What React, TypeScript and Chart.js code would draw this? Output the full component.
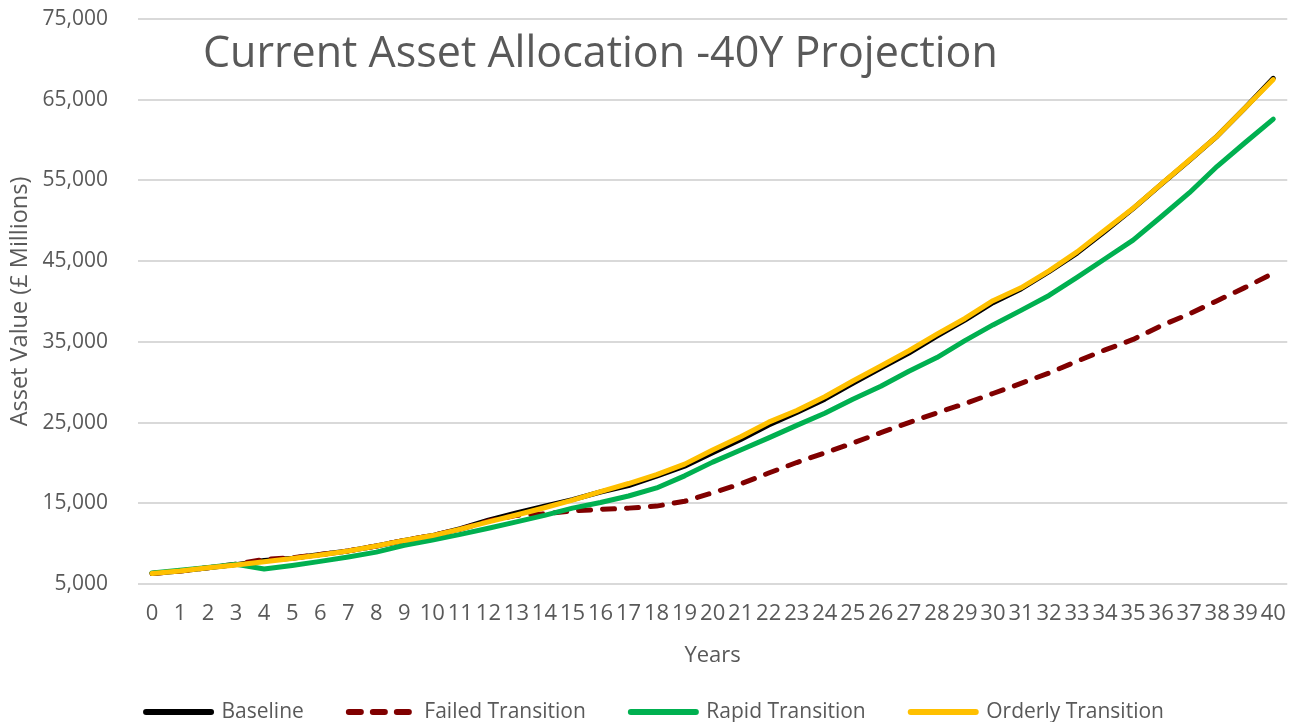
import React, { useEffect, useRef } from 'react';
import { Chart, registerables } from 'chart.js';

Chart.register(...registerables);

const CHART_TITLE = 'Current Asset Allocation -40Y Projection';
const X_TITLE = 'Years';
const Y_TITLE = 'Asset Value (£ Millions)';

const years = [
  '0', '1', '2', '3', '4', '5', '6', '7', '8', '9', '10',
  '11', '12', '13', '14', '15', '16', '17', '18', '19', '20',
  '21', '22', '23', '24', '25', '26', '27', '28', '29', '30',
  '31', '32', '33', '34', '35', '36', '37', '38', '39', '40',
];

const baseline = [
  6300, 6600, 7000, 7400, 7900, 8200, 8650, 9100, 9700, 10400, 11000,
  11850, 12900, 13800, 14650, 15450, 16400, 17200, 18350, 19600, 21250,
  22900, 24700, 26250, 27900, 29850, 31750, 33600, 35700, 37700, 39850,
  41550, 43700, 46000, 48700, 51500, 54500, 57450, 60500, 64000, 67650,
];

const failed = [
  6300, 6600, 7000, 7450, 8050, 8250, 8650, 9100, 9700, 10400, 11000,
  11800, 12800, 13500, 13700, 14050, 14250, 14400, 14650, 15250, 16300,
  17400, 18750, 20050, 21250, 22450, 23750, 25000, 26200, 27350, 28600,
  29850, 31150, 32600, 34000, 35300, 37000, 38450, 40100, 41750, 43500,
];

const rapid = [
  6350, 6700, 7050, 7450, 6850, 7300, 7800, 8350, 8950, 9800, 10450,
  11150, 11900, 12700, 13500, 14400, 15100, 15900, 16900, 18400, 20100,
  21600, 23100, 24650, 26150, 27900, 29500, 31350, 33050, 35150, 37100,
  38900, 40750, 43000, 45300, 47600, 50500, 53450, 56750, 59700, 62600,
];

const orderly = [
  6300, 6600, 7000, 7350, 7750, 8150, 8600, 9080, 9700, 10400, 11000,
  11800, 12700, 13550, 14450, 15400, 16450, 17450, 18550, 19850, 21600,
  23250, 25050, 26500, 28200, 30150, 32000, 33900, 35950, 37900, 40100,
  41700, 43800, 46150, 48850, 51550, 54550, 57500, 60500, 64000, 67500,
];

const Y_MIN = 5000;
const Y_MAX = 75000;
const Y_STEP = 10000;

const FONT = '"Open Sans", sans-serif';
const GREY = '#595959';

const titlePlugin = {
  id: 'insideTitle',
  afterDraw(chart: any) {
    const { ctx } = chart;
    ctx.save();
    ctx.font = `43px ${FONT}`;
    ctx.fillStyle = GREY;
    ctx.textBaseline = 'alphabetic';
    ctx.textAlign = 'left';
    ctx.fillText(CHART_TITLE, 203, 67);
    ctx.restore();
  },
};

export default function App() {
  const canvasRef = useRef<HTMLCanvasElement | null>(null);

  useEffect(() => {
    if (!canvasRef.current) return;
    const lineCommon = {
      borderWidth: 5,
      pointRadius: 0,
      pointHoverRadius: 0,
      tension: 0,
      fill: false,
      borderCapStyle: 'round' as const,
      borderJoinStyle: 'round' as const,
    };
    const chart = new Chart(canvasRef.current, {
      type: 'line',
      data: {
        labels: years,
        datasets: [
          { ...lineCommon, label: 'Baseline', data: baseline, borderColor: '#000000', backgroundColor: '#000000', order: 3 },
          { ...lineCommon, label: 'Failed Transition', data: failed, borderColor: '#800000', backgroundColor: '#800000', borderDash: [12, 12], order: 2 },
          { ...lineCommon, label: 'Rapid Transition', data: rapid, borderColor: '#00b050', backgroundColor: '#00b050', order: 1 },
          { ...lineCommon, label: 'Orderly Transition', data: orderly, borderColor: '#ffc000', backgroundColor: '#ffc000', order: 0 },
        ],
      },
      options: {
        animation: false,
        responsive: true,
        maintainAspectRatio: false,
        events: [],
        layout: { padding: { left: 20, right: 13, top: 19, bottom: -10.5 } },
        plugins: {
          legend: {
            position: 'bottom',
            labels: {
              usePointStyle: true,
              pointStyle: 'line',
              pointStyleWidth: 65,
              font: { family: FONT, size: 21 },
              color: GREY,
              padding: 45,
              sort: (a: any, b: any) => a.datasetIndex - b.datasetIndex,
              generateLabels: (ch: any) => {
                const items = Chart.defaults.plugins.legend.labels.generateLabels(ch);
                return items.map((it: any) => {
                  const ds: any = ch.data.datasets[it.datasetIndex];
                  return {
                    ...it,
                    lineDash: ds.borderDash || [],
                    lineCap: 'round',
                    lineWidth: 6,
                    strokeStyle: ds.borderColor,
                    fillStyle: ds.borderColor,
                  };
                });
              },
            },
          },
          tooltip: { enabled: false },
          title: { display: false },
        },
        scales: {
          x: {
            type: 'category',
            offset: true,
            grid: { display: false, drawTicks: false },
            border: { display: false },
            afterFit: (scale: any) => {
              scale.height = 72.5;
            },
            ticks: {
              autoSkip: false,
              maxRotation: 0,
              minRotation: 0,
              padding: 17,
              font: { family: FONT, size: 22 },
              color: GREY,
            },
            title: {
              display: true,
              text: X_TITLE,
              font: { family: FONT, size: 22 },
              color: GREY,
              padding: { top: 0, bottom: -12.7 },
            },
          },
          y: {
            min: Y_MIN,
            max: Y_MAX,
            afterFit: (scale: any) => {
              scale.width = 118;
            },
            grid: {
              color: '#d9d9d9',
              lineWidth: 2,
              drawTicks: true,
              tickLength: 30,
              tickColor: 'rgba(0,0,0,0)',
            },
            border: { display: false },
            ticks: {
              stepSize: Y_STEP,
              padding: 0,
              font: { family: FONT, size: 21 },
              color: GREY,
              callback: (v: any) => Number(v).toLocaleString('en-US'),
            },
            title: {
              display: true,
              text: Y_TITLE,
              font: { family: FONT, size: 23.5 },
              color: GREY,
              padding: { top: -14, bottom: 0 },
            },
          },
        },
      },
      plugins: [titlePlugin],
    });
    return () => chart.destroy();
  }, []);

  return (
    <div style={{ position: 'fixed', left: 0, top: 0, width: '100vw', height: '100vh', background: '#ffffff' }}>
      <canvas ref={canvasRef} />
    </div>
  );
}
